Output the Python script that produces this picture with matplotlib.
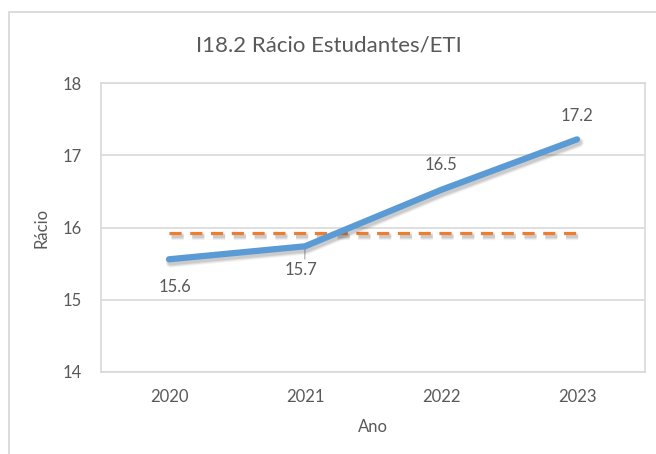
import matplotlib.pyplot as plt
import matplotlib.patheffects as pe
from matplotlib.patches import Rectangle

anos = ["2020", "2021", "2022", "2023"]
racio = [15.56, 15.74, 16.52, 17.22]
referencia = [15.93, 15.93, 15.93, 15.93]
yticks = [14, 15, 16, 17, 18]

plt.rcParams['font.family'] = ['Lato', 'DejaVu Sans']
cinza = "#595959"
grelha = "#D9D9D9"

fig = plt.figure(figsize=(6.56, 4.54), dpi=100)
W, H = 656, 454

# moldura do gráfico (cortada à direita e em baixo)
fig.patches.append(Rectangle((9 / W, -0.1), 1.2, (H - 12) / H + 0.1,
                             transform=fig.transFigure, fill=False,
                             edgecolor=grelha, lw=1.3))

ax = fig.add_axes([101 / W, 1 - 372 / H, (645 - 101) / W, (372 - 83) / H])
x = range(len(anos))


def sombra(lw):
    # sombra difusa: várias camadas largas e transparentes
    camadas = [pe.SimpleLineShadow(offset=(1.2, -2.2), shadow_color="#000000",
                                   alpha=a, linewidth=lw + e)
               for a, e in [(0.05, 3.0), (0.07, 1.5), (0.09, 0.0)]]
    return camadas + [pe.Normal()]


ax.plot(x, referencia, color="#ED7D31", lw=2.3, dashes=(3.8, 2.7),
        dash_capstyle="butt", path_effects=sombra(2.3), zorder=3)
ax.plot(x, racio, color="#5B9BD5", lw=4.5, solid_capstyle="round",
        solid_joinstyle="round", path_effects=sombra(4.5), zorder=4)

# rótulos dos valores (deslocamentos em pontos)
desloc = [(4, -20), (-3, -17), (0, 18), (0, 17)]
for i, (v, (dx, dy)) in enumerate(zip(racio, desloc)):
    seta = None
    if i == 1:
        seta = dict(arrowstyle="-", color="#A6A6A6", lw=0.8,
                    shrinkA=0, shrinkB=0, relpos=(0.62, 1.0))
    ax.annotate(f"{v:.1f}", (i, v), xytext=(dx, dy), textcoords="offset points",
                ha="center", va="center", fontsize=12, color=cinza,
                arrowprops=seta)

ax.set_xlim(-0.5, 3.5)
ax.set_ylim(14, 18)
ax.set_yticks(yticks)
ax.set_xticks(list(x))
ax.set_xticklabels(anos)
ax.yaxis.grid(True, color=grelha, lw=1.2)
ax.set_axisbelow(True)
for s in ax.spines.values():
    s.set_color(grelha)
    s.set_linewidth(1.2)
ax.tick_params(length=0, labelsize=12, labelcolor=cinza, pad=12)
ax.tick_params(axis="y", pad=14)

ax.set_xlabel("Ano", fontsize=12, color=cinza, labelpad=10)
ax.set_ylabel("Rácio", fontsize=12, color=cinza, labelpad=9)
fig.text(329 / W, 1 - 45 / H, "I18.2 Rácio Estudantes/ETI",
         ha="center", va="center", fontsize=16, color=cinza)

fig.savefig("out.png", dpi=100)
